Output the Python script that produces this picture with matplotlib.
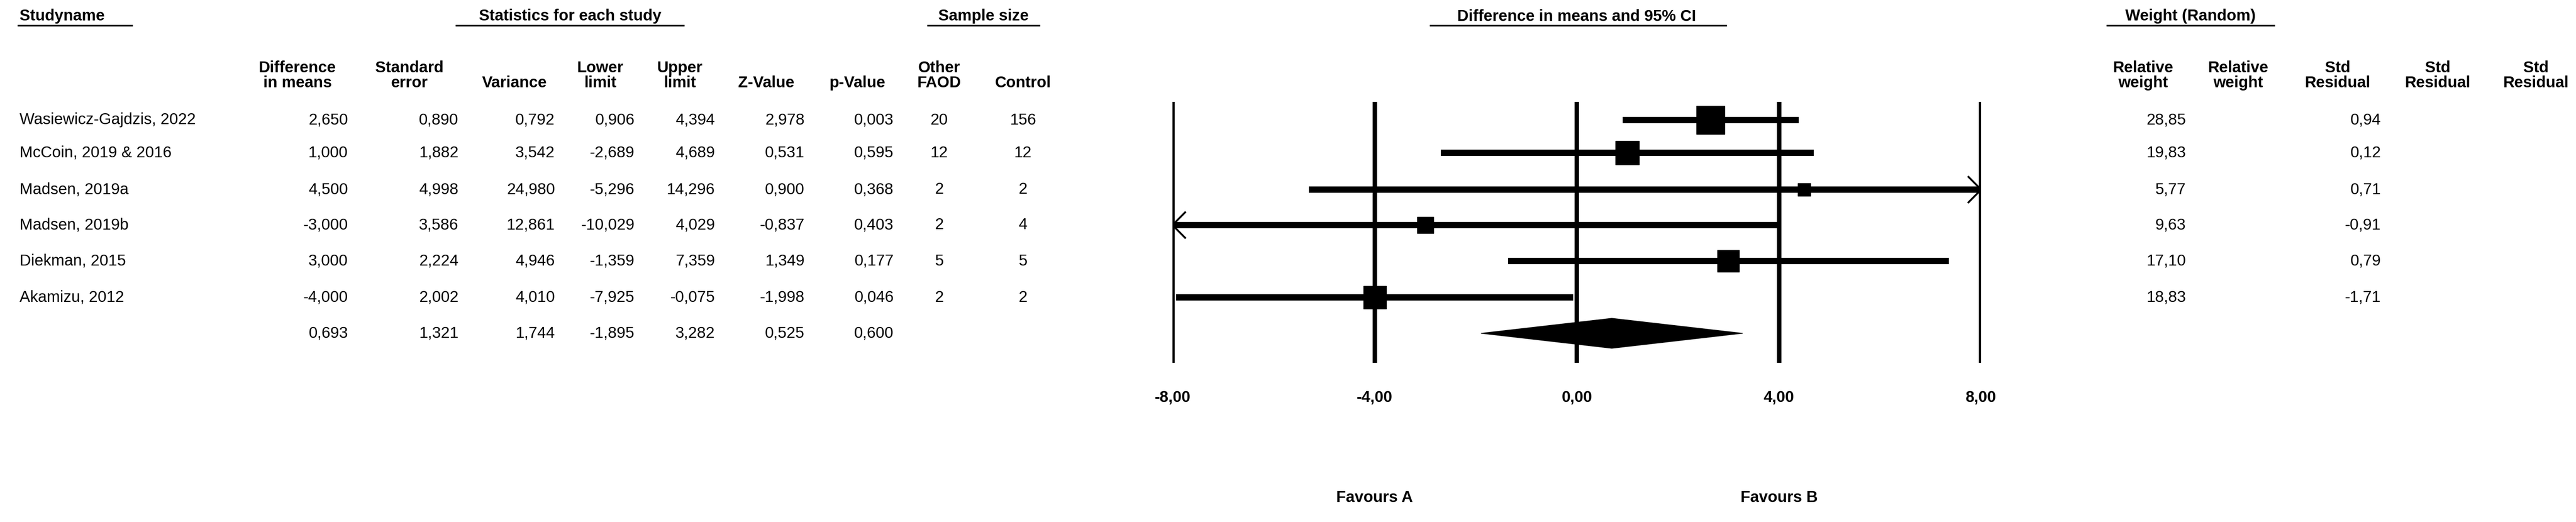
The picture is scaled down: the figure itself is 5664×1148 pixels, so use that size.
import numpy as np
import matplotlib.pyplot as plt
from matplotlib.patches import Polygon

plt.rcParams['font.family'] = ['Liberation Sans Narrow', 'Liberation Sans', 'DejaVu Sans']

W, H = 5664, 1148

studies = ["Wasiewicz-Gajdzis, 2022", "McCoin, 2019 & 2016", "Madsen, 2019a",
           "Madsen, 2019b", "Diekman, 2015", "Akamizu, 2012"]
diff = [2.650, 1.000, 4.500, -3.000, 3.000, -4.000]
se = [0.890, 1.882, 4.998, 3.586, 2.224, 2.002]
var = [0.792, 3.542, 24.980, 12.861, 4.946, 4.010]
lower = [0.906, -2.689, -5.296, -10.029, -1.359, -7.925]
upper = [4.394, 4.689, 14.296, 4.029, 7.359, -0.075]
zval = [2.978, 0.531, 0.900, -0.837, 1.349, -1.998]
pval = [0.003, 0.595, 0.368, 0.403, 0.177, 0.046]
n_other = [20, 12, 2, 2, 5, 2]
n_control = [156, 12, 2, 4, 5, 2]
rel_weight = [28.85, 19.83, 5.77, 9.63, 17.10, 18.83]
std_resid = [0.94, 0.12, 0.71, -0.91, 0.79, -1.71]
summary = [0.693, 1.321, 1.744, -1.895, 3.282, 0.525, 0.600]
xticks = [-8, -4, 0, 4, 8]

row_y = [264, 336, 417, 495, 574, 654]
sum_y = 733
fs = 25


def fmt(v, d=3):
    return f"{v:.{d}f}".replace(".", ",")


fig = plt.figure(figsize=(W / 100, H / 100), dpi=100)
ax = fig.add_axes([0, 0, 1, 1])
ax.set_xlim(0, W)
ax.set_ylim(H, 0)
ax.axis("off")


def header(x, text, x0, x1, ha="center"):
    ax.text(x, 36, text, fontsize=fs, fontweight="bold", ha=ha, va="center")
    ax.plot([x0, x1], [56, 56], color="black", lw=2.5)


header(43, "Studyname", 40, 290, ha="left")
header(1254, "Statistics for each study", 1003, 1503)
header(2162, "Sample size", 2040, 2285)
header(3467, "Difference in means and 95% CI", 3145, 3795)
header(4816, "Weight (Random)", 4633, 5000)

subheads = [(654, "Difference\nin means"), (900, "Standard\nerror"), (1131, "\nVariance"),
            (1320, "Lower\nlimit"), (1495, "Upper\nlimit"), (1685, "\nZ-Value"),
            (1885, "\np-Value"), (2065, "Other\nFAOD"), (2249, "\nControl"),
            (4712, "Relative\nweight"), (4921, "Relative\nweight"), (5140, "Std\nResidual"),
            (5360, "Std\nResidual"), (5576, "Std\nResidual")]
for x, t in subheads:
    ax.text(x, 166, t, fontsize=fs, fontweight="bold", ha="center", va="center",
            linespacing=1.0)

num_cols = [765, 1008, 1220, 1395, 1572, 1769, 1965]
for i, y in enumerate(row_y):
    ax.text(43, y, studies[i], fontsize=fs, va="center")
    vals = [diff[i], se[i], var[i], lower[i], upper[i], zval[i], pval[i]]
    for x, v in zip(num_cols, vals):
        ax.text(x, y, fmt(v), fontsize=fs, ha="right", va="center")
    ax.text(2065, y, str(n_other[i]), fontsize=fs, ha="center", va="center")
    ax.text(2249, y, str(n_control[i]), fontsize=fs, ha="center", va="center")
    ax.text(4806, y, fmt(rel_weight[i], 2), fontsize=fs, ha="right", va="center")
    ax.text(5235, y, fmt(std_resid[i], 2), fontsize=fs, ha="right", va="center")
for x, v in zip(num_cols, summary):
    ax.text(x, sum_y, fmt(v), fontsize=fs, ha="right", va="center")

# forest plot
x0, x1 = 2578, 4356
fx = fig.add_axes([x0 / W, 0, (x1 - x0) / W, 1])
fx.set_xlim(-8, 8)
fx.set_ylim(H, 0)
fx.axis("off")
fx.patch.set_alpha(0)
for t in xticks:
    fx.plot([t, t], [224, 798], color="black", lw=7, solid_capstyle="butt")
    fx.text(t, 874, fmt(t, 2), fontsize=fs, fontweight="bold", ha="center", va="center")
fx.text(-4, 1094, "Favours A", fontsize=fs, fontweight="bold", ha="center", va="center")
fx.text(4, 1094, "Favours B", fontsize=fs, fontweight="bold", ha="center", va="center")

wmax = max(rel_weight)
for i, y in enumerate(row_y):
    lo, hi = max(lower[i], -8), min(upper[i], 8)
    fx.plot([lo, hi], [y, y], color="black", lw=10, solid_capstyle="butt")
    if upper[i] > 8:
        fx.plot([7.75, 8, 7.75], [y - 28, y, y + 28], color="black", lw=3)
    if lower[i] < -8:
        fx.plot([-7.75, -8, -7.75], [y - 28, y, y + 28], color="black", lw=3)
    fx.plot(diff[i], y, marker="s", color="black",
            markersize=45 * np.sqrt(rel_weight[i] / wmax))

d = summary
fx.add_patch(Polygon([[d[3], sum_y], [d[0], sum_y - 33], [d[4], sum_y], [d[0], sum_y + 33]],
                     closed=True, color="black"))

fig.savefig("out.png", dpi=100)
